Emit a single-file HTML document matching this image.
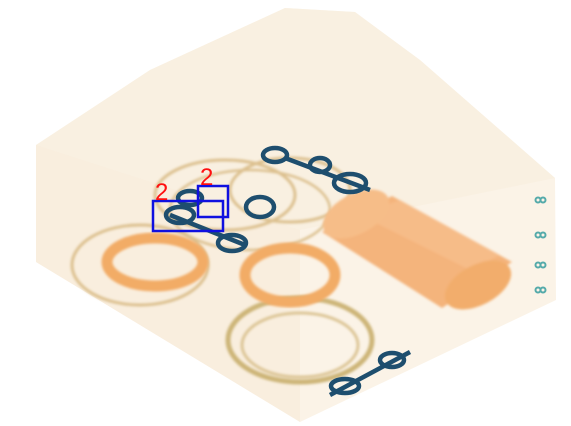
<!DOCTYPE html>
<html><head><meta charset="utf-8"><style>
html,body{margin:0;padding:0;background:#fff;}
svg{display:block;}
</style></head><body>
<svg width="571" height="426" viewBox="0 0 571 426">
<defs>
<filter id="blur"><feGaussianBlur stdDeviation="1.2"/></filter>
</defs>
<g>
<polygon points="36,145 150,70 285,8 355,12 420,60 555,178 556,300 300,422 36,262" fill="#fbf3e7"/>
<polygon points="36,145 150,70 285,8 355,12 420,60 555,178 300,230" fill="#f9eedd" opacity="0.6"/>
<polygon points="36,145 300,230 300,422 36,262" fill="#f7ead6" opacity="0.5"/>
</g>
<g fill="none" stroke="#dcc08e" filter="url(#blur)">
<ellipse cx="225" cy="195" rx="70" ry="35" stroke-width="3"/>
<ellipse cx="290" cy="190" rx="60" ry="32" stroke-width="3"/>
<ellipse cx="250" cy="210" rx="80" ry="40" stroke-width="2.5"/>
<ellipse cx="140" cy="265" rx="68" ry="40" stroke-width="3"/>
<ellipse cx="300" cy="340" rx="72" ry="42" stroke="#cdb578" stroke-width="5"/>
<ellipse cx="300" cy="345" rx="58" ry="32" stroke="#dcc595" stroke-width="3"/>
</g>
<g fill="none" stroke="#f2ac66" filter="url(#blur)">
<ellipse cx="155" cy="262" rx="48" ry="24" stroke-width="11"/>
<ellipse cx="290" cy="275" rx="45" ry="27" stroke-width="11"/>
</g>
<g filter="url(#blur)">
<polygon points="322,232 392,196 512,262 442,308" fill="#f4b47c"/>
<polygon points="360,215 400,200 500,255 470,270" fill="#f7c291" opacity="0.6"/>
<ellipse cx="356" cy="214" rx="36" ry="20" transform="rotate(-28 356 214)" fill="#f6bd88"/>
<ellipse cx="478" cy="285" rx="36" ry="20" transform="rotate(-28 478 285)" fill="#f2ad6c"/>
</g>
<g fill="none" stroke="#1e4e6e" stroke-width="4.5">
<ellipse cx="275" cy="155" rx="12" ry="7"/><ellipse cx="320" cy="165" rx="10" ry="7"/>
<line x1="285" y1="158" x2="370" y2="190"/><ellipse cx="350" cy="183" rx="16" ry="9"/>
<ellipse cx="190" cy="198" rx="12" ry="7"/><ellipse cx="260" cy="207" rx="14" ry="10"/>
<line x1="170" y1="215" x2="245" y2="245"/><ellipse cx="180" cy="215" rx="14" ry="8"/><ellipse cx="232" cy="243" rx="14" ry="8"/>
<line x1="330" y1="395" x2="410" y2="352"/><ellipse cx="345" cy="386" rx="14" ry="7"/><ellipse cx="392" cy="360" rx="12" ry="7"/>
</g>
<g fill="none" stroke="#5aa" stroke-width="2">
<circle cx="538" cy="200" r="2.5"/><circle cx="543" cy="200" r="2.5"/>
<circle cx="538" cy="235" r="2.5"/><circle cx="543" cy="235" r="2.5"/>
<circle cx="538" cy="265" r="2.5"/><circle cx="543" cy="265" r="2.5"/>
<circle cx="538" cy="290" r="2.5"/><circle cx="543" cy="290" r="2.5"/>
</g>
<g fill="none" stroke="#1010e0" stroke-width="2.5">
<rect x="153" y="201" width="70" height="30"/>
<rect x="198" y="186" width="30" height="31"/>
</g>
<text x="155" y="200" fill="#ff1010" font-family="Liberation Sans, sans-serif" font-size="24">2</text>
<text x="200" y="185" fill="#ff1010" font-family="Liberation Sans, sans-serif" font-size="24">2</text>
</svg>
</body></html>
